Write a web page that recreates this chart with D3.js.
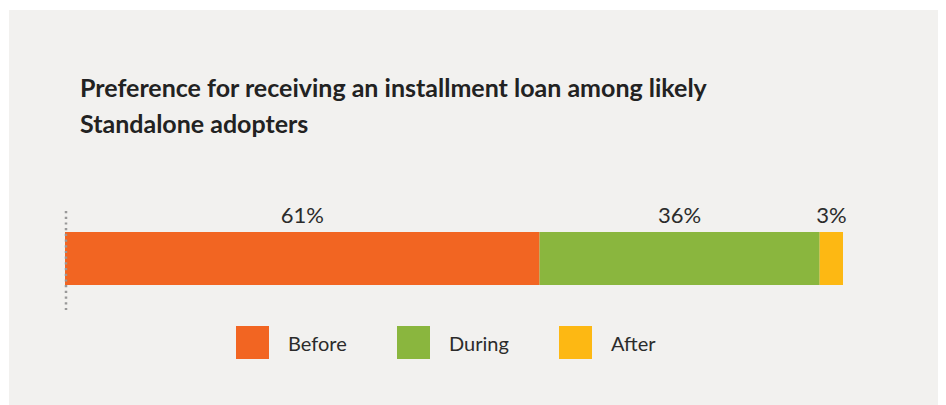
<!DOCTYPE html>
<html>
<head>
<meta charset="utf-8">
<script src="https://cdn.jsdelivr.net/npm/d3@7"></script>
<style>
  html, body { margin: 0; padding: 0; background: #ffffff; }
  svg { display: block; }
  text { font-family: Lato, "Open Sans", sans-serif; }
</style>
</head>
<body>
<svg id="chart" width="946" height="405"></svg>
<script>
// Stacked share of respondents by preferred timing of the installment loan
const categories = ["Before", "During", "After"];
const values = [61, 36, 3];
const colors = ["#F26522", "#8AB63E", "#FDB813"];
const titleLines = [
  "Preference for receiving an installment loan among likely",
  "Standalone adopters"
];

const svg = d3.select("#chart");
const W = 946, H = 405;

// panel background
svg.append("rect")
  .attr("x", 9).attr("y", 10)
  .attr("width", 929).attr("height", H - 10)
  .attr("fill", "#F2F1EF");

// title
svg.append("g").selectAll("text")
  .data(titleLines)
  .join("text")
  .attr("x", 80)
  .attr("y", (d, i) => 97 + i * 36)
  .attr("font-size", 25)
  .attr("font-weight", 700)
  .attr("fill", "#222")
  .text(d => d);

// stacked bar geometry
const x = d3.scaleLinear().domain([0, d3.sum(values)]).range([65, 843]);
const barTop = 232, barH = 53;

const stacked = [];
let acc = 0;
values.forEach((v, i) => {
  stacked.push({ cat: categories[i], v, x0: acc, x1: acc + v, color: colors[i] });
  acc += v;
});

svg.append("g").selectAll("rect")
  .data(stacked)
  .join("rect")
  .attr("x", d => x(d.x0))
  .attr("y", barTop)
  .attr("width", d => x(d.x1) - x(d.x0))
  .attr("height", barH)
  .attr("fill", d => d.color);

// value labels above each segment
svg.append("g").selectAll("text")
  .data(stacked)
  .join("text")
  .attr("x", d => (x(d.x0) + x(d.x1)) / 2)
  .attr("y", 223)
  .attr("text-anchor", "middle")
  .attr("font-size", 22)
  .attr("fill", "#2b2b2b")
  .text(d => d.v + "%");

// dotted baseline axis
svg.append("line")
  .attr("x1", x(0) + 1).attr("x2", x(0) + 1)
  .attr("y1", 211).attr("y2", 311)
  .attr("stroke", "#999")
  .attr("stroke-width", 2.5)
  .attr("stroke-dasharray", "2.2,3.5");

// legend
const legendX = [236, 397, 559];
const legend = svg.append("g").selectAll("g")
  .data(categories)
  .join("g")
  .attr("transform", (d, i) => `translate(${legendX[i]},326)`);

legend.append("rect")
  .attr("width", 33).attr("height", 33)
  .attr("fill", (d, i) => colors[i]);

legend.append("text")
  .attr("x", 52)
  .attr("y", 25)
  .attr("font-size", 20)
  .attr("fill", "#2b2b2b")
  .text(d => d);
</script>
</body>
</html>
